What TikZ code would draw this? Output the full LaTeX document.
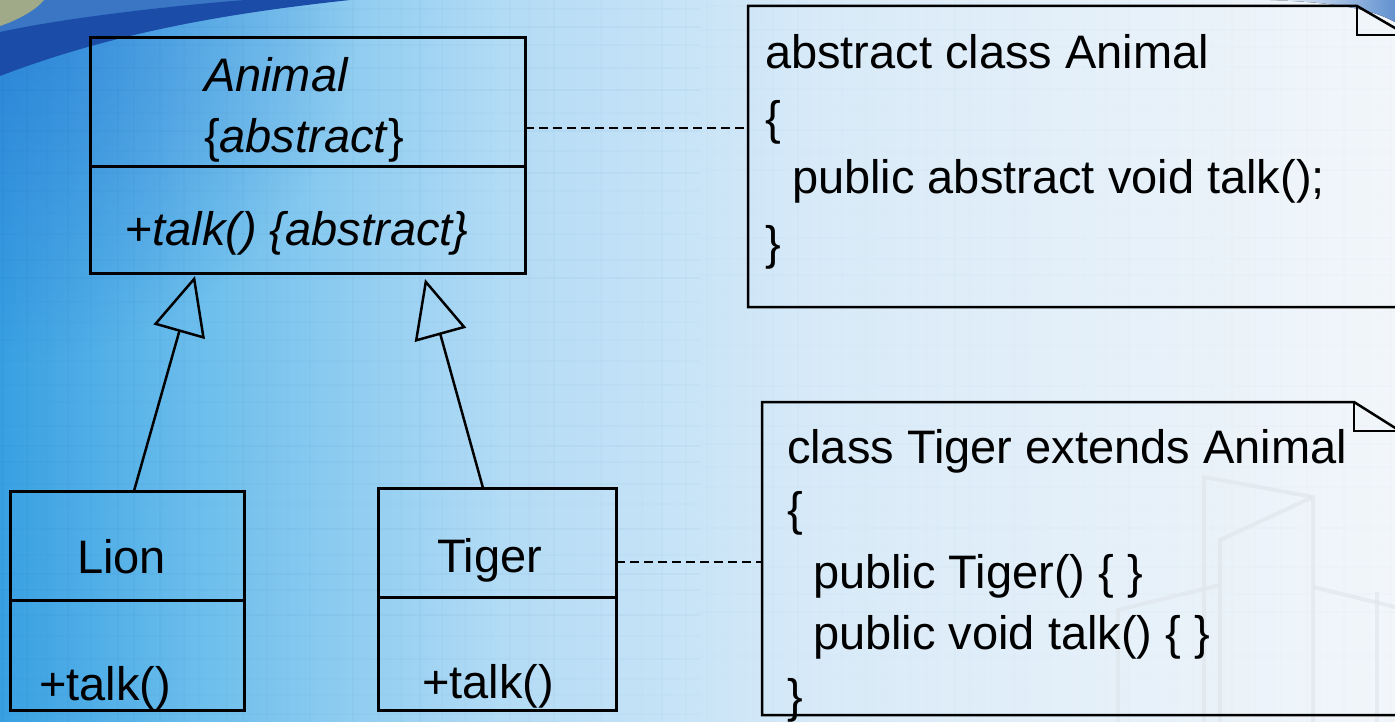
\documentclass[tikz,border=0pt]{standalone}
\usepackage{fontspec}
\setmainfont{Liberation Sans}
\usetikzlibrary{arrows.meta,calc,fadings}

% slide background palette
\definecolor{bg0}{RGB}{56,160,226}
\definecolor{bg1}{RGB}{108,190,236}
\definecolor{bg2}{RGB}{178,219,245}
\definecolor{bg3}{RGB}{216,234,248}
\definecolor{bg4}{RGB}{242,246,250}
\definecolor{cornerblue}{RGB}{34,112,208}
\definecolor{bandblue}{RGB}{26,76,168}
\definecolor{capblue}{RGB}{58,118,196}
\definecolor{sand}{RGB}{186,182,122}
\definecolor{gridblue}{RGB}{20,80,150}
\definecolor{sketchgray}{RGB}{224,231,237}

\newcommand\umlsize{\fontsize{47pt}{56pt}\selectfont}

\tikzfading[name=cornerfade, inner color=transparent!0, outer color=transparent!100]

\begin{document}
\begin{tikzpicture}[x=1pt, y=-1pt,
  box/.style={draw=black, line width=3pt, inner sep=0pt, outer sep=0pt, anchor=north west},
  notebox/.style={draw=none, inner sep=0pt, outer sep=0pt, anchor=north west},
  noteline/.style={draw=black, line width=2.5pt, line join=miter},
  txt/.style={anchor=base west, inner sep=0pt, outer sep=0pt, font=\umlsize},
  dashline/.style={draw=black, line width=2pt, dash pattern=on 9pt off 5pt},
  genline/.style={draw=black, line width=2.5pt,
    -{Triangle[open, length=58pt, width=53pt]}}]

\useasboundingbox (0,0) rectangle (1395,722);
\clip (0,0) rectangle (1395,722);

% ---- background ----
\fill[left color=bg0, right color=bg1] (0,0) rectangle (200,722);
\fill[left color=bg1, right color=bg2] (199,0) rectangle (500,722);
\fill[left color=bg2, right color=bg3] (499,0) rectangle (820,722);
\fill[left color=bg3, right color=bg4] (819,0) rectangle (1395,722);
\fill[cornerblue, path fading=cornerfade, fill opacity=0.6] (0,0) circle (360pt);

% faint plaid texture, stronger on the blue side
\pgfmathsetseed{11}
\foreach \x in {0,22,...,1395}{
  \pgfmathsetmacro\op{(0.012+0.035*rnd)*max(0.25,1-\x/1000)}
  \draw[gridblue, line width=2pt, opacity=\op] (\x+9*rnd,0) -- ++(0,722);
}
\foreach \y in {0,21,...,722}{
  \pgfmathsetmacro\op{0.012+0.03*rnd}
  \draw[gridblue, line width=2pt, opacity=\op] (0,\y+9*rnd) -- ++(700,0);
  \draw[gridblue, line width=2pt, opacity=0.3*\op] (700,\y+9*rnd) -- ++(695,0);
}

% sketch lines in the lower right
\begin{scope}[sketchgray, line width=4pt, opacity=0.7]
  \draw (1204,722) -- (1204,477) -- (1313,497) -- (1313,722);
  \draw (1220,722) -- (1220,540) -- (1313,497);
  \draw (1313,587) -- (1395,607);
  \draw (1377,722) -- (1377,592);
  \draw (1118,722) -- (1118,610) -- (1220,585);
\end{scope}

% top-left swoosh
\fill[capblue] (0,0) -- (250,0) .. controls (150,8) and (60,18) .. (0,34) -- cycle;
\fill[sand, opacity=0.8] (0,0) -- (44,0) .. controls (36,10) and (18,20) .. (0,26) -- cycle;
\fill[bandblue] (0,32) .. controls (70,17) and (170,6) .. (245,0) -- (350,0)
  .. controls (240,12) and (120,30) .. (0,76) -- cycle;
% top-right swoosh
\fill[left color=bg4, right color=capblue!80] (1270,0) .. controls (1330,2) and (1370,8) .. (1395,22) -- (1395,0) -- cycle;

% ---- class Animal ----
\node[box, minimum width=435pt, minimum height=129pt] (animalHead) at (90,38) {};
\node[box, minimum width=435pt, minimum height=106pt] (animalOps) at (animalHead.south west) {};
\node[txt, font=\umlsize\itshape] (animalName) at (204,92) {Animal};
\node[txt] (animalTag) at (204,153) {\{\textit{abstract}\}};
\node[txt] (animalOp) at (125,245) {+\textit{talk() \{abstract\}}};

% ---- class Lion ----
\node[box, minimum width=234pt, minimum height=109pt] (lionHead) at (10,491) {};
\node[box, minimum width=234pt, minimum height=110pt] (lionOps) at (lionHead.south west) {};
\node[txt] (lionName) at (77,573) {Lion};
\node[txt] (lionOp) at (39,700) {+talk()};

% ---- class Tiger ----
\node[box, minimum width=238pt, minimum height=109pt] (tigerHead) at (378,488) {};
\node[box, minimum width=238pt, minimum height=113pt] (tigerOps) at (tigerHead.south west) {};
\node[txt] (tigerName) at (437,572) {Tiger};
\node[txt] (tigerOp) at (422,698) {+talk()};

% ---- note on Animal ----
\node[notebox, minimum width=659pt, minimum height=301pt] (noteA) at (748,6) {};
\draw[noteline] (noteA.north west) -- ($(noteA.north east)+(-50,0)$) coordinate (foldA)
  -- ($(noteA.north east)+(0,29)$) -- (noteA.south east) -- (noteA.south west) -- cycle;
\draw[noteline] (foldA) -- ++(0,29) -- ($(noteA.north east)+(0,29)$);
\node[txt] (noteA1) at (765,69) {abstract class Animal};
\node[txt] (noteA2) at (765,135) {\{};
\node[txt] (noteA3) at (792,194) {public abstract void talk();};
\node[txt] (noteA4) at (765,259) {\}};

% ---- note on Tiger ----
\node[notebox, minimum width=638pt, minimum height=313pt] (noteB) at (762,402) {};
\draw[noteline] (noteB.north west) -- ($(noteB.north east)+(-46,0)$) coordinate (foldB)
  -- ($(noteB.north east)+(0,29)$) -- (noteB.south east) -- (noteB.south west) -- cycle;
\draw[noteline] (foldB) -- ++(0,29) -- ($(noteB.north east)+(0,29)$);
\node[txt] (noteB1) at (787,463) {class Tiger extends Animal};
\node[txt] (noteB2) at (787,525) {\{};
\node[txt] (noteB3) at (813,588) {public Tiger() \{ \}};
\node[txt] (noteB4) at (813,649) {public void talk() \{ \}};
\node[txt] (noteB5) at (787,712) {\}};

% ---- note anchors ----
\draw[dashline] ($(animalHead.south east)+(0,-39)$) -- ($(noteA.south west)+(0,-179)$);
\draw[dashline] ($(tigerHead.south east)+(0,-35)$) -- ($(noteB.north west)+(0,160)$);

% ---- generalisations ----
\coordinate (tipL) at (195,276);
\coordinate (tipT) at (425,279);
\draw[genline] ($(lionHead.north)+(7,0)$) -- (tipL);
\draw[genline] ($(tigerHead.north)+(-14,0)$) -- (tipT);

\end{tikzpicture}
\end{document}
